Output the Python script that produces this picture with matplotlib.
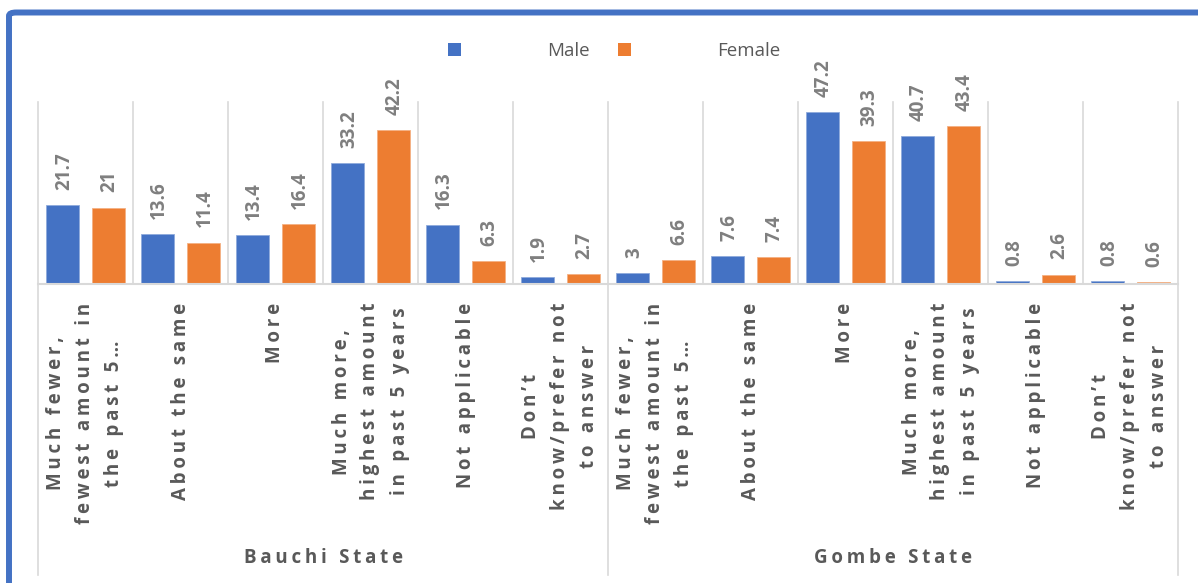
import matplotlib
matplotlib.use("Agg")
import matplotlib.pyplot as plt
from matplotlib.patches import Patch, FancyBboxPatch

categories = ["Much fewer,\nfewest amount in\nthe past 5…", "About the same", "More",
              "Much more,\nhighest amount\nin past 5 years", "Not applicable",
              "Don’t\nknow/prefer not\nto answer"]
groups = ["Bauchi State", "Gombe State"]
male = [21.7, 13.6, 13.4, 33.2, 16.3, 1.9, 3, 7.6, 47.2, 40.7, 0.8, 0.8]
female = [21, 11.4, 16.4, 42.2, 6.3, 2.7, 6.6, 7.4, 39.3, 43.4, 2.6, 0.6]
series_names = ["Male", "Female"]

BLUE = "#4472C4"
ORANGE = "#ED7D31"
GRID = "#D9D9D9"
LABEL = "#7F7F7F"
TEXT = "#595959"
FONT = ["Open Sans", "DejaVu Sans"]

plt.rcParams['font.family'] = FONT


def spaced(s):
    return "\n".join("\u2009".join(line) for line in s.split("\n"))


W, H = 1198, 583
fig = plt.figure(figsize=(W / 100, H / 100), dpi=100)
fig.patch.set_facecolor("white")
ax = fig.add_axes([38 / W, 1 - 284 / H, (1178 - 38) / W, (284 - 102) / H])

n = len(male)
xs = list(range(n))
off = 0.24
bw = 0.345
ax.bar([x + 0.5 - off for x in xs], male, width=bw, color=BLUE, edgecolor="#8FAADC", linewidth=0.6, zorder=3)
ax.bar([x + 0.5 + off for x in xs], female, width=bw, color=ORANGE, edgecolor="#F4B183", linewidth=0.6, zorder=3)

ax.set_xlim(0, n)
ax.set_ylim(0, 50)
ax.axis("off")

# vertical separators in plot region
for b in range(n + 1):
    ax.plot([b, b], [0, 50], color=GRID, lw=1.2, zorder=1, clip_on=False)
# separators extending below baseline at group boundaries
for b in [0, 6, 12]:
    ax.plot([b, b], [0, -80], color=GRID, lw=1.2, zorder=1, clip_on=False)
# baseline
ax.plot([0, n], [0, 0], color=GRID, lw=1.5, zorder=4, clip_on=False)

# data labels
for x, v in zip(xs, male):
    ax.annotate(f"{v:g}", (x + 0.5 - off, v), xytext=(1, 11), textcoords="offset points",
                rotation=90, ha="center", va="bottom", fontsize=13.5, fontweight="bold", color=LABEL)
for x, v in zip(xs, female):
    ax.annotate(f"{v:g}", (x + 0.5 + off, v), xytext=(1, 11), textcoords="offset points",
                rotation=90, ha="center", va="bottom", fontsize=13.5, fontweight="bold", color=LABEL)

# category labels
cat_all = categories * len(groups)
for x, c in zip(xs, cat_all):
    ax.text(x + 0.5, -5.2, spaced(c), rotation=90, ha="center", va="top",
            multialignment="center", fontsize=13.5, fontweight="bold", color=TEXT,
            linespacing=1.6, clip_on=False)

# group labels
for gi, g in enumerate(groups):
    ax.text(gi * 6 + 3, -75.2, spaced(g), ha="center", va="center", fontsize=13.5,
            fontweight="bold", color=TEXT, clip_on=False)

# legend
handles = [Patch(facecolor=BLUE), Patch(facecolor=ORANGE)]
fig.legend(handles, series_names, loc="center", bbox_to_anchor=(614 / W, 1 - 51 / H),
           ncol=2, frameon=False, fontsize=13.5, handlelength=0.7, handleheight=0.7,
           handletextpad=4.6, columnspacing=1.5, labelcolor=TEXT)

# blue frame (top and left visible)
frame = FancyBboxPatch((9 / W, -0.2), 1.3, 1 - 12.5 / H + 0.2,
                       boxstyle="round,pad=0,rounding_size=0.006",
                       transform=fig.transFigure, facecolor="none",
                       edgecolor=BLUE, linewidth=4.3, clip_on=False)
fig.patches.append(frame)

fig.savefig("out.png", dpi=100, facecolor="white")
